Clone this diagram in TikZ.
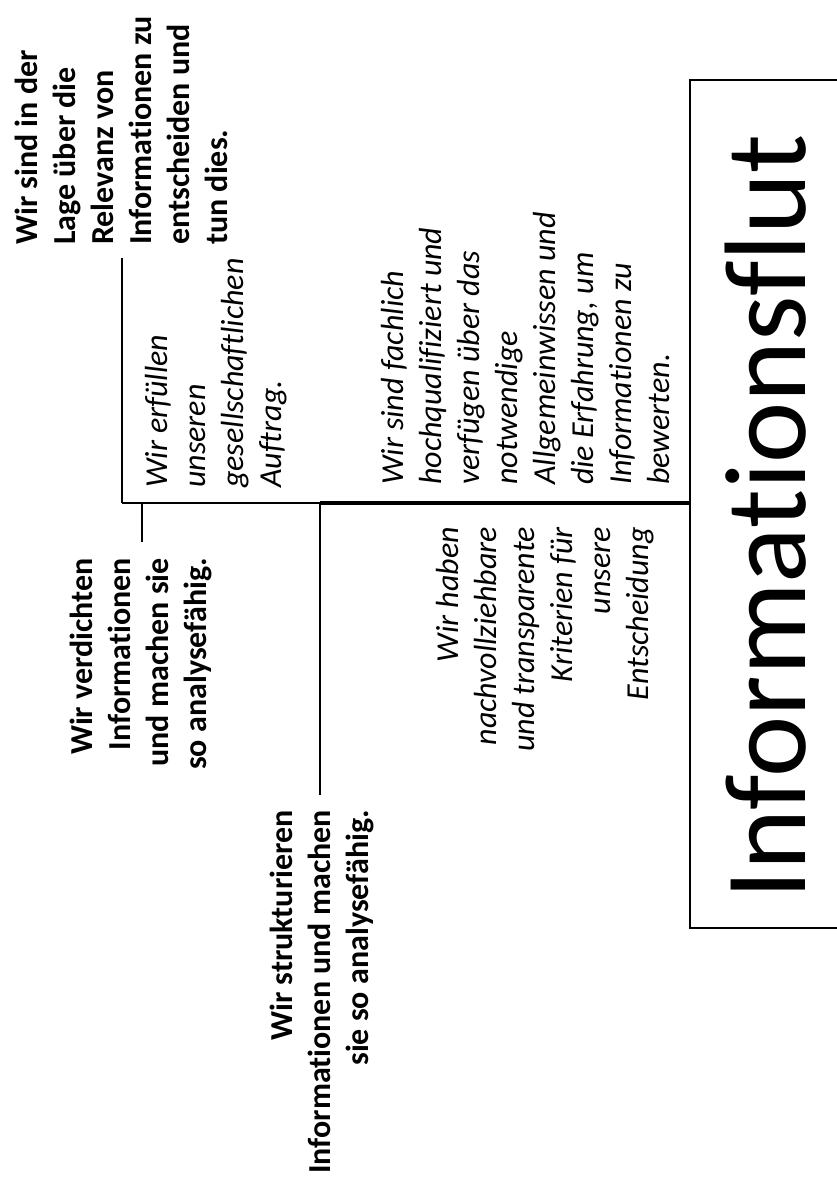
\documentclass[tikz,border=0pt]{standalone}
\usepackage{fontspec}
\setmainfont{Carlito}[Ligatures={NoCommon,NoContextual}]
\begin{document}
\begin{tikzpicture}[x=1pt,y=-1pt,
  txt/.style={rotate=90, inner sep=0pt},
  boldtxt/.style={txt, font=\fontsize{32}{38}\selectfont\bfseries},
  ittxt/.style={txt, font=\fontsize{32}{38}\selectfont\itshape},
  branch/.style={line width=2.2pt},
  spinethick/.style={line width=4pt},
  frame/.style={line width=1.3pt}]
\useasboundingbox (0,0) rectangle (837,1185);
\begin{scope}
\clip (0,0) rectangle (837,1185);
% title box
\draw[frame] (690,80) rectangle (860,928);
\node[txt, anchor=base west, font=\fontsize{116}{120}\selectfont] (title) at (805,900) {Informationsflut};
% connector points
\coordinate (boxL) at (690,503);
\coordinate (j2) at (320,503);
\coordinate (j1) at (142,503);
\coordinate (spL) at (122,503);
\coordinate (aEnd) at (122,258);
\coordinate (bEnd) at (142,542);
\coordinate (eEnd) at (320,795);
% texts
\node[boldtxt, anchor=north west, align=left] (A) at (15,245)
  {Wir sind in der\\Lage über die\\Relevanz von\\Informationen zu\\entscheiden und\\tun dies.};
\node[ittxt, anchor=north west, align=left] (F) at (145,488)
  {Wir erfüllen\\unseren\\gesellschaftlichen\\Auftrag.};
\node[ittxt, anchor=north west, align=left] (C) at (381,485)
  {Wir sind fachlich\\hochqualifiziert und\\verfügen über das\\notwendige\\Allgemeinwissen und\\die Erfahrung, um\\Informationen zu\\bewerten.};
\node[ittxt, anchor=north east, align=right] (D) at (436,527)
  {Wir haben\\nachvollziehbare\\und transparente\\Kriterien für\\unsere\\Entscheidung};
\node[boldtxt, anchor=north east, align=right] (B) at (70,558)
  {Wir verdichten\\Informationen\\und machen sie\\so analysefähig.};
\node[boldtxt, anchor=north east, align=right] (E) at (270,810)
  {Wir strukturieren\\Informationen und machen\\sie so analysefähig.};
% lines
\draw[spinethick] (boxL) -- (j2);
\draw[branch] (j2) -- (spL);
\draw[branch] (aEnd) -- (spL);
\draw[branch] (j1) -- (bEnd);
\draw[branch] (j2) -- (eEnd);
\end{scope}
\end{tikzpicture}
\end{document}
